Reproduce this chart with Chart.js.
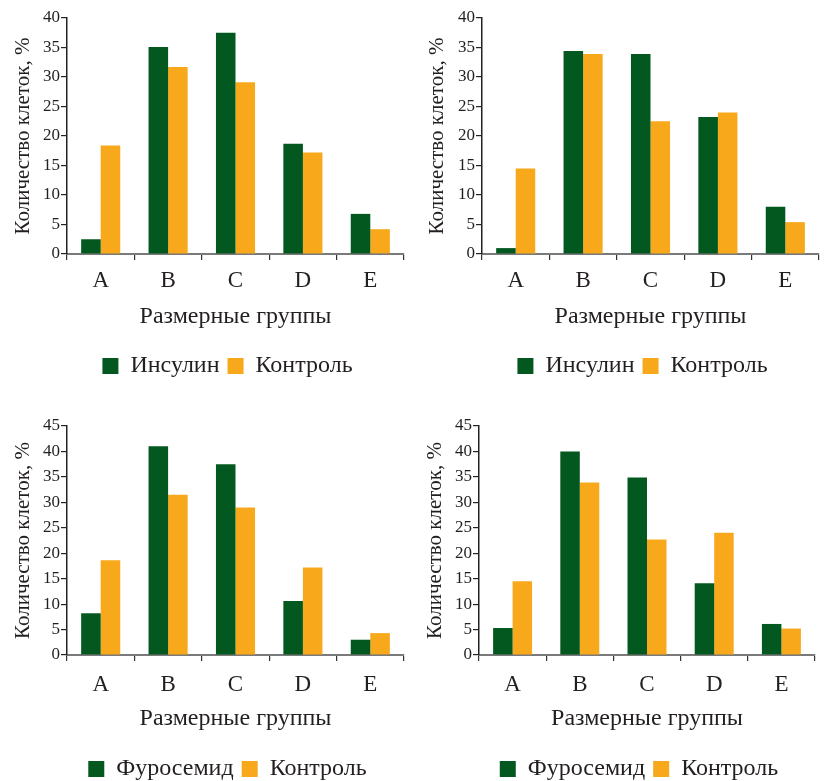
<!DOCTYPE html>
<html lang="ru">
<head>
    <meta charset="UTF-8">
    <title>Размерные группы</title>
    <script src="https://cdn.jsdelivr.net/npm/chart.js@4.4.0/dist/chart.umd.min.js"></script>
    <style>
        html, body { margin: 0; padding: 0; background: #fff; overflow: hidden; }
        body { width: 824px; height: 781px; position: relative; }
        canvas { position: absolute; }
    </style>
</head>
<body>
    <canvas id="chart1" width="412" height="400" style="left:0;top:0"></canvas>
    <canvas id="chart2" width="412" height="400" style="left:412px;top:0"></canvas>
    <canvas id="chart3" width="412" height="400" style="left:0;top:390px"></canvas>
    <canvas id="chart4" width="412" height="400" style="left:412px;top:390px"></canvas>

    <script>
        // данные
        const groups = ['A', 'B', 'C', 'D', 'E'];

        const insulin1 = [2.5, 35.1, 37.5, 18.7, 6.8];
        const control1 = [18.4, 31.7, 29.1, 17.2, 4.2];

        const insulin2 = [1.0, 34.4, 33.9, 23.2, 8.0];
        const control2 = [14.5, 33.9, 22.5, 24.0, 5.4];

        const furo3 = [8.2, 41.0, 37.5, 10.6, 3.0];
        const control3 = [18.6, 31.5, 29.0, 17.2, 4.3];

        const furo4 = [5.3, 40.0, 34.9, 14.1, 6.1];
        const control4 = [14.5, 33.9, 22.7, 24.0, 5.2];

        const yTitle = 'Количество клеток, %';
        const xTitle = 'Размерные группы';

        const GREEN = '#02581f';
        const ORANGE = '#f7a81b';
        const TEXT = '#231f20';
        const FONT = "'Liberation Serif', 'DejaVu Serif', serif";

        // сдвиг легенды по горизонтали
        const legendShift = {
            id: 'legendShift',
            afterLayout(chart, args, opts) {
                if (chart.legend && opts.dx) {
                    chart.legend.left += opts.dx;
                    chart.legend.right += opts.dx;
                }
            }
        };

        function makeChart(id, label1, data1, data2, yMax, g) {
            const ctx = document.getElementById(id).getContext('2d');
            return new Chart(ctx, {
                type: 'bar',
                data: {
                    labels: groups,
                    datasets: [
                        { label: label1, data: data1, backgroundColor: GREEN },
                        { label: 'Контроль', data: data2, backgroundColor: ORANGE }
                    ]
                },
                options: {
                    responsive: false,
                    animation: false,
                    datasets: {
                        bar: { categoryPercentage: 0.58, barPercentage: 1.0 }
                    },
                    layout: {
                        padding: { left: 0, right: g.right, top: g.top, bottom: g.bottom }
                    },
                    scales: {
                        x: {
                            afterFit: s => { s.height = g.xH; },
                            grid: { display: true, drawOnChartArea: false, drawTicks: true, tickLength: 6, color: '#333', lineWidth: 1.2, offset: true },
                            border: { display: true, color: '#7a7a7a', width: 2 },
                            ticks: { color: TEXT, padding: g.xTickPad, font: { family: FONT, size: 23 } },
                            title: {
                                display: true, text: xTitle, color: TEXT,
                                font: { family: FONT, size: 24 },
                                padding: { top: 0, bottom: g.xTitlePad }
                            }
                        },
                        y: {
                            min: 0, max: yMax,
                            afterFit: s => { s.width = g.yW; },
                            grid: { display: true, drawOnChartArea: false, drawTicks: true, tickLength: 6, color: '#222', lineWidth: 1.2 },
                            border: { display: true, color: '#222', width: 1.5 },
                            ticks: { stepSize: 5, color: TEXT, padding: 1, font: { family: FONT, size: 17 } },
                            title: {
                                display: true, text: yTitle, color: TEXT,
                                font: { family: FONT, size: 21 },
                                padding: { top: g.yTitlePad, bottom: 0 }
                            }
                        }
                    },
                    plugins: {
                        legendShift: { dx: g.legendDx },
                        legend: {
                            position: 'bottom',
                            fullSize: false,
                            labels: {
                                boxWidth: 16, boxHeight: 16, padding: 8,
                                color: TEXT,
                                font: { family: FONT, size: 24 }
                            }
                        },
                        tooltip: { enabled: false }
                    }
                },
                plugins: [legendShift]
            });
        }

        const topGeom = { top: 18, bottom: 12, xH: 92, xTickPad: 7, xTitlePad: 15, legendDx: -8 };
        const botGeom = { top: 36, bottom: -1, xH: 94, xTickPad: 10, xTitlePad: 16, legendDx: -8 };

        makeChart('chart1', 'Инсулин', insulin1, control1, 40,
            Object.assign({}, topGeom, { right: 8, yW: 67, yTitlePad: 11 }));
        makeChart('chart2', 'Инсулин', insulin2, control2, 40,
            Object.assign({}, topGeom, { right: 5, yW: 70, yTitlePad: 13 }));
        makeChart('chart3', 'Фуросемид', furo3, control3, 45,
            Object.assign({}, botGeom, { right: 8, yW: 67, yTitlePad: 11 }));
        makeChart('chart4', 'Фуросемид', furo4, control4, 45,
            Object.assign({}, botGeom, { right: 9, yW: 67, yTitlePad: 11 }));
    </script>
</body>
</html>
